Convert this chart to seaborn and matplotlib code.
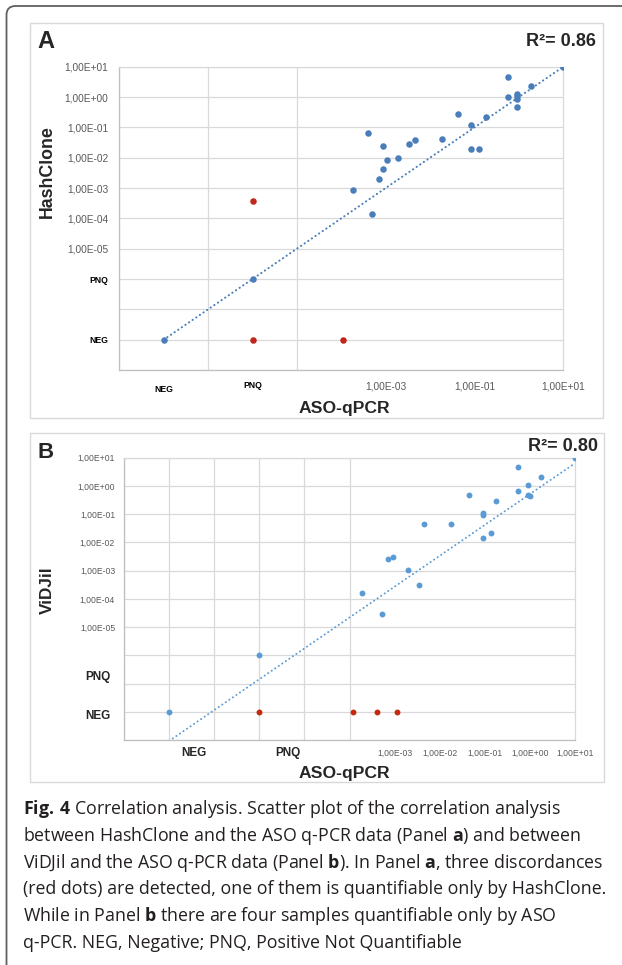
import numpy as np
import pandas as pd
import matplotlib
matplotlib.use("Agg")
import matplotlib.pyplot as plt
import matplotlib.patches as mpatches
import matplotlib.transforms as mtransforms
import seaborn as sns

# values are log10 positions; NEG is coded -8, PNQ is coded -6
# Panel A: HashClone vs ASO-qPCR
a_blue_x = [1.0, -0.25, -0.25, -0.05, -0.05, -0.05, 0.27, -0.05, -1.38, -0.75, -1.07, -3.40, -1.74,
            -2.35, -2.47, -3.05, -1.07, -0.89, -2.96, -2.73, -3.05, -3.16, -3.73, -3.31, -6.0, -8.0]
a_blue_y = [1.0, 0.67, 0.0, 0.09, 0.02, -0.06, 0.37, -0.34, -0.55, -0.67, -0.93, -1.18, -1.39,
            -1.43, -1.55, -1.60, -1.72, -1.72, -2.07, -2.01, -2.36, -2.70, -3.06, -3.86, -6.0, -8.0]
a_red_x = [-6.0, -6.0, -3.96]
a_red_y = [-3.42, -8.0, -8.0]
a_trend_x = [-8.0, 1.0]
a_trend_y = [-8.0, 1.0]
a_r2 = "R²= 0.86"

# Panel B: ViDJil vs ASO-qPCR
b_blue_x = [1.0, -0.27, 0.26, -0.03, -0.27, -0.03, 0.0, -1.35, -0.74, -1.03, -1.03, -2.35, -1.74,
            -0.87, -1.03, -3.03, -3.14, -2.71, -2.46, -3.73, -3.27, -6.0, -8.0]
b_blue_y = [1.0, 0.68, 0.32, 0.03, -0.19, -0.33, -0.35, -0.33, -0.55, -0.97, -1.02, -1.35, -1.35,
            -1.68, -1.86, -2.53, -2.60, -2.97, -3.51, -3.81, -4.52, -6.0, -8.0]
b_red_x = [-6.0, -3.93, -3.39, -2.95]
b_red_y = [-8.0, -8.0, -8.0, -8.0]
b_trend_x = [-8.0, 1.0]
b_trend_y = [-9.03, 0.8]
b_r2 = "R²= 0.80"

a_xtick_pos = [-8, -6, -3, -1, 1]
a_xtick_lab = ["NEG", "PNQ", "1,00E-03", "1,00E-01", "1,00E+01"]
a_ytick_pos = [1, 0, -1, -2, -3, -4, -5, -6, -7, -8, -9]
a_ytick_lab = ["1,00E+01", "1,00E+00", "1,00E-01", "1,00E-02", "1,00E-03", "1,00E-04", "1,00E-05",
               "PNQ", "", "NEG", ""]
b_xtick_pos = [-3, -2, -1, 0, 1]
b_xtick_lab = ["1,00E-03", "1,00E-02", "1,00E-01", "1,00E+00", "1,00E+01"]
b_ytick_pos = [1, 0, -1, -2, -3, -4, -5, -6, -7, -8, -9]
b_ytick_lab = ["1,00E+01", "1,00E+00", "1,00E-01", "1,00E-02", "1,00E-03", "1,00E-04", "1,00E-05",
               "", "", "", ""]
b_extra_y = [("PNQ", -6.76), ("NEG", -8.15)]
b_extra_x = [("NEG", -7.46), ("PNQ", -5.36)]

caption = [
    r"$\mathbf{Fig.\,4}$ Correlation analysis. Scatter plot of the correlation analysis",
    r"between HashClone and the ASO q-PCR data (Panel $\mathbf{a}$) and between",
    r"ViDJil and the ASO q-PCR data (Panel $\mathbf{b}$). In Panel $\mathbf{a}$, three discordances",
    r"(red dots) are detected, one of them is quantifiable only by HashClone.",
    r"While in Panel $\mathbf{b}$ there are four samples quantifiable only by ASO",
    r"q-PCR. NEG, Negative; PNQ, Positive Not Quantifiable",
]

sns.set_style("white")
plt.rcParams["font.family"] = ["Liberation Sans", "DejaVu Sans"]
plt.rcParams["mathtext.fontset"] = "custom"
plt.rcParams["mathtext.rm"] = "Open Sans"
plt.rcParams["mathtext.bf"] = "Open Sans:bold"

W, H = 622, 965
fig = plt.figure(figsize=(W / 100, H / 100), dpi=100)


def box(l, t, r, b):
    return [l / W, 1 - b / H, (r - l) / W, (b - t) / H]


# outer frame and panel frames
frame = mpatches.FancyBboxPatch((6.5, -40), 700, 965 - 6 + 40, boxstyle="round,pad=0,rounding_size=9",
                                transform=mtransforms.IdentityTransform(), fill=False, ec="#5f5f5f", lw=1.3)
fig.add_artist(frame)
for l, t, r, b in [(30, 23, 603, 418), (30, 433, 604, 782)]:
    fig.add_artist(mpatches.Rectangle((l / W, 1 - b / H), (r - l) / W, (b - t) / H,
                                      transform=fig.transFigure, fill=False, ec="#d9d9d9", lw=1))

axA = fig.add_axes(box(119.3, 66.7, 563.3, 370))
axB = fig.add_axes(box(124.2, 457.7, 574.8, 740))

grid_c = "#d9d9d9"


def style_axes(ax):
    ax.set_xlim(-9, 1)
    ax.set_ylim(-9, 1)
    for s in ax.spines.values():
        s.set_color(grid_c)
        s.set_linewidth(0.9)
    ax.spines["left"].set_color("#bfbfbf")
    ax.spines["bottom"].set_color("#bfbfbf")
    ax.tick_params(which="both", length=0)


# ---- Panel A ----
style_axes(axA)
sns.lineplot(x=a_trend_x, y=a_trend_y, ax=axA, color="#4a7ebb", lw=1.5, linestyle=(0, (0.1, 2.0)),
             dash_capstyle="round", zorder=2)
sns.scatterplot(x=a_blue_x, y=a_blue_y, ax=axA, color="#4a7ebb", s=22, linewidth=0, zorder=3)
sns.scatterplot(x=a_red_x, y=a_red_y, ax=axA, color="#c0271a", s=22, linewidth=0, zorder=3)
axA.set_xticks(a_xtick_pos)
axA.set_xticklabels(a_xtick_lab)
axA.set_xticks(range(-9, 2, 2), minor=True)
axA.set_yticks(a_ytick_pos)
axA.set_yticklabels(a_ytick_lab)
axA.grid(False, which="major", axis="x")
axA.grid(True, which="minor", axis="x", color=grid_c, lw=0.9)
axA.grid(True, which="major", axis="y", color=grid_c, lw=0.9)
axA.tick_params(axis="x", pad=8)
axA.tick_params(axis="y", pad=8)
for lab in axA.get_xticklabels() + axA.get_yticklabels():
    if lab.get_text() in ("NEG", "PNQ"):
        lab.set_fontweight("bold")
        lab.set_fontsize(6.2)
        lab.set_color("black")
    else:
        lab.set_fontsize(7.3)
        lab.set_color("#595959")
axA.get_xticklabels()[0].set_transform(axA.get_xticklabels()[0].get_transform() +
                                       mtransforms.ScaledTranslation(0, -4 / 100, fig.dpi_scale_trans))
axA.set_xlabel("ASO-qPCR", fontsize=12.6, fontweight="bold")
axA.xaxis.set_label_coords(0.508, -0.127)
axA.xaxis.label.set_va("center")
axA.set_ylabel("HashClone", fontsize=12.8, fontweight="bold")
axA.yaxis.set_label_coords(-0.1615, 0.6545)
axA.yaxis.label.set_va("center")

# ---- Panel B ----
style_axes(axB)
sns.lineplot(x=b_trend_x, y=b_trend_y, ax=axB, color="#5b9bd5", lw=1.4, linestyle=(0, (0.1, 2.1)),
             dash_capstyle="round", zorder=2)
sns.scatterplot(x=b_blue_x, y=b_blue_y, ax=axB, color="#5b9bd5", s=18, linewidth=0, zorder=3)
sns.scatterplot(x=b_red_x, y=b_red_y, ax=axB, color="#c5290f", s=18, linewidth=0, zorder=3)
axB.set_xticks(b_xtick_pos)
axB.set_xticklabels(b_xtick_lab, fontsize=6.2, color="#595959")
axB.set_xticks(range(-9, 2), minor=True)
axB.set_yticks(b_ytick_pos)
axB.set_yticklabels(b_ytick_lab, fontsize=6.2, color="#595959")
axB.grid(False, which="major", axis="x")
axB.grid(True, which="minor", axis="x", color=grid_c, lw=0.9)
axB.grid(True, which="major", axis="y", color=grid_c, lw=0.9)
axB.tick_params(axis="x", pad=6.5)
axB.tick_params(axis="y", pad=6.6)
ytr = mtransforms.blended_transform_factory(axB.transAxes, axB.transData)
for txt, yv in b_extra_y:
    axB.text(-0.0586, yv, txt, transform=ytr, ha="center", va="center", fontsize=8.5,
             fontweight="bold", clip_on=False)
xtr = mtransforms.blended_transform_factory(axB.transData, axB.transAxes)
for txt, xv in b_extra_x:
    axB.text(xv, -0.045, txt, transform=xtr, ha="center", va="center", fontsize=8.5,
             fontweight="bold", clip_on=False)
axB.set_xlabel("ASO-qPCR", fontsize=12.6, fontweight="bold")
axB.xaxis.set_label_coords(0.489, -0.117)
axB.xaxis.label.set_va("center")
axB.set_ylabel("ViDJil", fontsize=12.3, fontweight="bold")
axB.yaxis.set_label_coords(-0.170, 0.531)
axB.yaxis.label.set_va("center")

# panel letters and R² values
fig.text(45.5 / W, 1 - 41 / H, "A", fontsize=17, fontweight="bold", ha="center", va="center")
fig.text(45.6 / W, 1 - 452.5 / H, "B", fontsize=16, fontweight="bold", ha="center", va="center")
fig.text(596 / W, 1 - 41.5 / H, a_r2, fontsize=13, fontweight="bold", ha="right", va="center")
fig.text(597.5 / W, 1 - 446.5 / H, b_r2, fontsize=13, fontweight="bold", ha="right", va="center")

# caption
for i, line in enumerate(caption):
    fig.text(22.7 / W, 1 - (814.3 + i * 26.7) / H, line, fontsize=12.75, family="Open Sans",
             ha="left", va="baseline", color="#231f20")

fig.savefig("out.png", dpi=100)
